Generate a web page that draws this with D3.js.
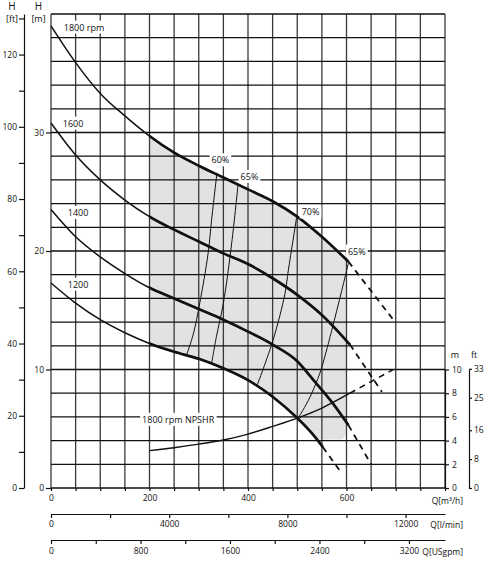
<!DOCTYPE html>
<html>
<head>
<meta charset="utf-8">
<script src="https://cdn.jsdelivr.net/npm/d3@7"></script>
<style>
body { margin: 0; background: #fff; }
svg text { font-family: "Open Sans", sans-serif; fill: #111; }
</style>
</head>
<body>
<svg id="chart" width="487" height="567"></svg>
<script>
// Q [m3/h], H [m]
const rpm1800 = [[0,39.0],[50,35.9],[100,33.3],[150,31.4],[200,29.7],[250,28.3],[300,27.2],[350,26.2],[400,25.2],[450,24.2],[500,22.9],[550,21.2],[604,19.1]];
const rpm1600 = [[0,30.8],[50,28.1],[100,26.0],[150,24.3],[200,22.9],[250,21.8],[300,20.8],[350,19.8],[400,18.9],[450,17.7],[500,16.3],[550,14.6],[607,12.1]];
const rpm1400 = [[0,23.5],[50,21.2],[100,19.5],[150,18.1],[200,16.9],[250,16.0],[300,15.1],[350,14.2],[400,13.2],[450,12.1],[500,10.7],[533,9.1],[573,7.1],[604,5.3]];
const rpm1200 = [[0,17.3],[50,15.6],[100,14.2],[150,13.1],[200,12.2],[250,11.5],[300,10.9],[350,10.1],[400,9.1],[450,7.7],[500,5.9],[530,4.6],[552,3.45]];
// dashed continuations
const rpm1800Ext = [[604,19.1],[695,14.2]];
const rpm1600Ext = [[607,12.1],[672,8.1]];
const rpm1400Ext = [[604,5.3],[650,2.0]];
const rpm1200Ext = [[552,3.45],[591,1.2]];
// NPSHR at 1800 rpm
const npshr = [[200,3.15],[250,3.4],[300,3.7],[350,4.05],[400,4.55],[450,5.2],[500,5.9],[550,6.75],[607,8.0]];
const npshrExt = [[607,8.0],[695,10.0]];
// iso-efficiency lines
const eff60 = [[337,26.6],[326,22.6],[319,19.8],[302,15.6],[289,13.0],[275,11.2]];
const eff65a = [[380,25.7],[367,20.7],[350,15.6],[336,12.8],[326,10.5]];
const eff70 = [[499,22.9],[482,18.4],[475,16.4],[451,12.5],[418,8.6]];
const eff65b = [[604,19.0],[590,16.6],[570,13.3],[558,11.4],[546,9.7],[525,7.6],[502,5.9]];
// lower right corner of the shaded operating range
const grayCorner = [[600,19.0],[600,5.0],[597,4.3],[590,4.1],[542,4.1]];

const qTicks = d3.range(0, 801, 50);
const qLabels = [0, 200, 400, 600];
const hGrid = d3.range(0, 41, 2);
const hLabels = [0, 10, 20, 30];
const ftTicks = d3.range(0, 131, 10);
const lpmTicks = d3.range(0, 12001, 2000);
const gpmTicks = d3.range(0, 3201, 400);
const npshMTicks = [0, 2, 4, 6, 8, 10];
const npshFtTicks = [0, 8, 16, 25, 33];

const curveLabels = [
  {t: "1800 rpm", q: 26, h: 38.6},
  {t: "1600", q: 24, h: 30.5},
  {t: "1400", q: 34, h: 22.95},
  {t: "1200", q: 34, h: 16.9},
  {t: "1800 rpm NPSHR", q: 185, h: 5.5},
  {t: "60%", q: 326, h: 27.4},
  {t: "65%", q: 385, h: 26.0},
  {t: "70%", q: 509, h: 23.0},
  {t: "65%", q: 603, h: 19.7}
];

const svg = d3.select("#chart");
const x = d3.scaleLinear().domain([0, 800]).range([51, 445]);
const y = d3.scaleLinear().domain([0, 40]).range([488, 14]);
const ft = d3.scaleLinear().domain([0, 40 * 3.28084]).range([488, 14]);
const lpm = d3.scaleLinear().domain([0, 800 * 1000 / 60]).range([51, 445]);
const gpm = d3.scaleLinear().domain([0, 800 * 4.402868]).range([51, 445]);
const npshM = d3.scaleLinear().domain([0, 10]).range([y(0), y(10)]);
const npshFt = d3.scaleLinear().domain([0, 10 * 3.28084]).range([y(0), y(10)]);

const line = d3.line().x(d => x(d[0])).y(d => y(d[1])).curve(d3.curveMonotoneX);
const effLine = d3.line().x(d => x(d[0])).y(d => y(d[1])).curve(d3.curveCatmullRom);
const straight = d3.line().x(d => x(d[0])).y(d => y(d[1]));

// shaded operating range
const topEdge = line(rpm1800.filter(d => d[0] >= 200));
const cornerEdge = straight(grayCorner).replace(/^M/, "L");
const bottomEdge = line(rpm1200.filter(d => d[0] >= 200 && d[0] <= 530).reverse()).replace(/^M/, "L");
svg.append("path")
  .attr("d", topEdge + cornerEdge + bottomEdge + "Z")
  .attr("fill", "#e2e2e2");

// grid
svg.append("g").selectAll("line").data(qTicks).join("line")
  .attr("x1", d => x(d)).attr("x2", d => x(d))
  .attr("y1", y(40)).attr("y2", y(0))
  .attr("stroke", "#3a3a3a").attr("stroke-width", 1.3);
svg.append("g").selectAll("line").data(hGrid).join("line")
  .attr("x1", x(0)).attr("x2", x(800))
  .attr("y1", d => y(d)).attr("y2", d => y(d))
  .attr("stroke", "#111").attr("stroke-width", 1.3);

// axes
function styleAxis(g) {
  g.selectAll("path, line").attr("stroke", "#111").attr("stroke-width", 1.2);
  g.selectAll("text").attr("font-size", "8.5px").attr("fill", "#111").attr("font-family", '"Open Sans", sans-serif');
}

svg.append("g").attr("transform", `translate(0,${y(0)})`)
  .call(d3.axisBottom(x).tickValues(qTicks).tickSize(3).tickPadding(4)
    .tickFormat(d => qLabels.includes(d) ? d : ""))
  .call(g => g.select(".domain").remove())
  .call(styleAxis);

svg.append("g").attr("transform", `translate(${x(0)},0)`)
  .call(d3.axisLeft(y).tickValues(hLabels).tickSize(5).tickPadding(2))
  .call(g => g.select(".domain").remove())
  .call(styleAxis);

svg.append("g").attr("transform", "translate(24,0)")
  .call(d3.axisLeft(ft).tickValues(ftTicks).tickSize(5).tickSizeOuter(0).tickPadding(2)
    .tickFormat(d => d % 20 === 0 ? d : ""))
  .call(styleAxis);

svg.append("g").attr("transform", "translate(0,514)")
  .call(d3.axisBottom(lpm).tickValues(lpmTicks).tickSize(4).tickSizeOuter(0).tickPadding(3)
    .tickFormat(d => d % 4000 === 0 ? d : ""))
  .call(styleAxis);

svg.append("g").attr("transform", "translate(0,540)")
  .call(d3.axisBottom(gpm).tickValues(gpmTicks).tickSize(4).tickSizeOuter(0).tickPadding(4)
    .tickFormat(d => d % 800 === 0 ? d : ""))
  .call(styleAxis);

svg.append("g").attr("transform", `translate(${x(800)},0)`)
  .call(d3.axisRight(npshM).tickValues(npshMTicks).tickSize(4).tickSizeOuter(0).tickPadding(3))
  .call(styleAxis);

svg.append("g").attr("transform", "translate(469,0)")
  .call(d3.axisRight(npshFt).tickValues(npshFtTicks).tickSize(3).tickSizeOuter(0).tickPadding(2))
  .call(styleAxis);

// axis titles
const titles = [
  {t: "H", x: 12, y: 10, a: "middle", s: 10},
  {t: "[ft]", x: 12, y: 22, a: "middle", s: 9},
  {t: "H", x: 38.5, y: 10, a: "middle", s: 10},
  {t: "[m]", x: 38.5, y: 22, a: "middle", s: 9},
  {t: "m", x: 455, y: 358, a: "middle", s: 9},
  {t: "ft", x: 474, y: 358, a: "middle", s: 9},
  {t: "Q[m³/h]", x: 463, y: 504, a: "end", s: 8.5},
  {t: "Q[l/min]", x: 463, y: 528, a: "end", s: 8.5},
  {t: "Q[USgpm]", x: 463, y: 555, a: "end", s: 8.5}
];
svg.append("g").selectAll("text").data(titles).join("text")
  .attr("x", d => d.x).attr("y", d => d.y)
  .attr("text-anchor", d => d.a)
  .attr("font-size", d => d.s + "px")
  .text(d => d.t);

// operating range clip for the bold part of the curves
svg.append("clipPath").attr("id", "opRange")
  .append("rect").attr("x", x(200)).attr("y", 0)
  .attr("width", x(800) - x(200)).attr("height", 567);

const hqCurves = [rpm1800, rpm1600, rpm1400, rpm1200];
const hqExt = [rpm1800Ext, rpm1600Ext, rpm1400Ext, rpm1200Ext];

const curves = svg.append("g").attr("fill", "none").attr("stroke", "#111");

curves.selectAll("path.thin").data(hqCurves).join("path")
  .attr("class", "thin").attr("d", line).attr("stroke-width", 1.5);
curves.selectAll("path.bold").data(hqCurves).join("path")
  .attr("class", "bold").attr("d", line).attr("stroke-width", 2.7)
  .attr("clip-path", "url(#opRange)");
curves.selectAll("path.ext").data(hqExt).join("path")
  .attr("class", "ext").attr("d", straight)
  .attr("stroke-width", 1.8).attr("stroke-dasharray", "6,5");

curves.selectAll("path.eff").data([eff60, eff65a, eff70, eff65b]).join("path")
  .attr("class", "eff").attr("d", effLine).attr("stroke-width", 1);

curves.append("path").attr("d", line(npshr)).attr("stroke-width", 1.4);
curves.append("path").attr("d", straight(npshrExt))
  .attr("stroke-width", 1.6).attr("stroke-dasharray", "6,5");

// curve labels on white boxes
const lab = svg.append("g").selectAll("g").data(curveLabels).join("g");
lab.append("text")
  .attr("x", d => x(d.q)).attr("y", d => y(d.h))
  .attr("font-size", "9px")
  .text(d => d.t);
lab.each(function() {
  const g = d3.select(this);
  const b = g.select("text").node().getBBox();
  g.insert("rect", "text")
    .attr("x", b.x - 2).attr("y", b.y)
    .attr("width", b.width + 4).attr("height", b.height)
    .attr("fill", "#fff");
});
</script>
</body>
</html>
